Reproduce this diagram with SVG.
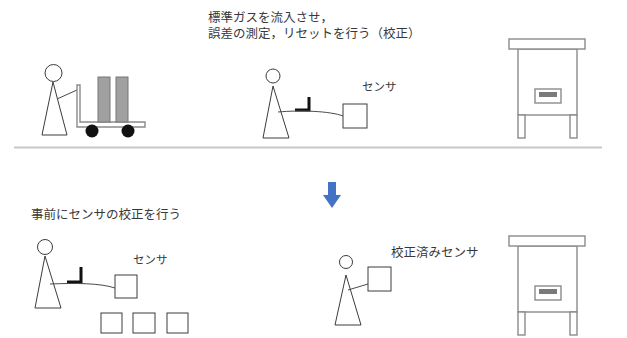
<svg xmlns="http://www.w3.org/2000/svg" width="627" height="338" viewBox="0 0 627 338">
  <style>
    .ln { fill: #fff; stroke: #3c3c3c; stroke-width: 1; }
    .wire { fill: none; stroke: #4a4a4a; stroke-width: 1; }
    .mach { fill: #fff; stroke: #8a8a8a; stroke-width: 1.4; }
    .txt { font-family: "Liberation Sans", "Noto Sans CJK JP", sans-serif; fill: #383838; }
    .big { font-size: 12.5px; }
    .sm { font-size: 11.5px; }
    .grip { fill: none; stroke: #111; stroke-width: 3; }
  </style>
  <defs>
    <g id="machine">
      <rect class="mach" x="518" y="0" width="59" height="66"/>
      <rect class="mach" x="509" y="-10" width="76" height="10"/>
      <rect class="mach" x="518" y="66" width="7" height="23"/>
      <rect class="mach" x="570" y="66" width="7" height="23"/>
      <rect class="mach" x="535" y="40" width="26" height="14"/>
      <rect x="539" y="43" width="18" height="5" fill="#7a7a7a"/>
    </g>
  </defs>
  <rect width="627" height="338" fill="#fff"/>

  <!-- divider -->
  <line x1="14" y1="147.5" x2="602" y2="147.5" stroke="#c8c8c8" stroke-width="2"/>

  <!-- upper: cart transport -->
  <g id="cart-worker">
    <circle class="ln" cx="53.5" cy="73" r="8.5"/>
    <polygon class="ln" points="53,82 42,135 67,135"/>
    <line class="wire" x1="57" y1="99" x2="77" y2="90"/>
    <path class="mach" d="M77,85 H80 V122 H145 V127 H77 Z"/>
    <rect x="98" y="77" width="12" height="45" fill="#a0a0a0" stroke="#777" stroke-width="1"/>
    <rect x="116" y="77" width="12" height="45" fill="#a0a0a0" stroke="#777" stroke-width="1"/>
    <circle cx="92" cy="131" r="6.5" fill="#111"/>
    <circle cx="128" cy="131" r="6.5" fill="#111"/>
  </g>

  <g id="note-top">
    <text class="txt big" x="208" y="22">標準ガスを流入させ，</text>
    <text class="txt big" x="208" y="38">誤差の測定，リセットを行う（校正）</text>
  </g>

  <g id="worker-top">
    <circle class="ln" cx="273" cy="76" r="7"/>
    <polygon class="ln" points="273,86 263,138 289,138"/>
    <path class="grip" d="M295,110 H309 V97"/>
    <rect class="ln" x="343" y="104" width="24" height="24"/>
    <text class="txt sm" x="362" y="91">センサ</text>
  </g>

  <g id="machine-top">
    <use href="#machine" transform="translate(0,49)"/>
  </g>

  <!-- arrow -->
  <g id="down-arrow">
    <polygon points="328,182 336,182 336,195 341,195 332,208 323,195 328,195" fill="#4472C4"/>
  </g>

  <!-- lower: pre-calibrated sensors -->
  <g id="note-bottom">
    <text class="txt big" x="31" y="219">事前にセンサの校正を行う</text>
  </g>

  <g id="worker-bottom-left">
    <circle class="ln" cx="45" cy="247" r="7.5"/>
    <polygon class="ln" points="45,256 35,308 61,308"/>
    <path class="grip" d="M67,282 H81 V267"/>
    <rect class="ln" x="115" y="275" width="22" height="23"/>
    <text class="txt sm" x="133" y="264">センサ</text>
  </g>

  <g id="sensor-stock">
    <rect class="ln" x="101" y="313" width="21" height="20"/>
    <rect class="ln" x="133" y="313" width="22" height="20"/>
    <rect class="ln" x="167" y="313" width="21" height="20"/>
  </g>

  <g id="worker-bottom-right">
    <circle class="ln" cx="346" cy="262" r="6.5"/>
    <polygon class="ln" points="346,275 335,325 361,325"/>
    <rect class="ln" x="368" y="267" width="23" height="24"/>
    <text class="txt big" x="391" y="257">校正済みセンサ</text>
  </g>

  <g id="machine-bottom">
    <use href="#machine" transform="translate(0,246)"/>
  </g>

  <!-- connectors: sensor cables and carrying arm -->
  <g id="connectors">
    <path class="wire" d="M278,112 C300,110 330,111 343,116"/>
    <path class="wire" d="M50,284 C75,283 100,283 115,288"/>
    <line class="wire" x1="348" y1="290" x2="368" y2="284"/>
  </g>
</svg>
